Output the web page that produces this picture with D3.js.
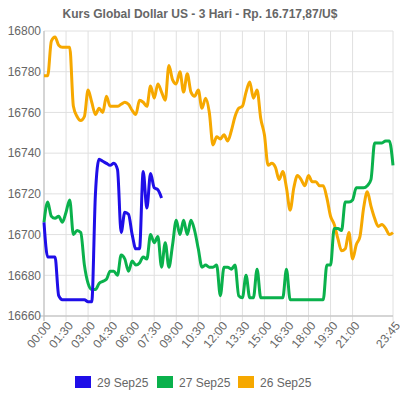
<!DOCTYPE html>
<html><head><meta charset="utf-8">
<script src="https://cdn.jsdelivr.net/npm/d3@7"></script>
<style>body{margin:0;background:#fff;font-family:"Liberation Sans",Arial,sans-serif}</style>
</head><body><div id="chart"></div>
<script>
// 15-minute slots, 00:00 .. 23:45
const slots = d3.range(96).map(i => String(Math.floor(i / 4)).padStart(2, "0") + ":" + String((i % 4) * 15).padStart(2, "0"));
const yTicks = [16660, 16680, 16700, 16720, 16740, 16760, 16780, 16800];
const seriesNames = ["29 Sep25", "27 Sep25", "26 Sep25"];
const seriesColors = ["#1f0ee8", "#0ab14c", "#f6a800"];

const sep29 = [16706,16689,16689,16689,16670,16668,16668,16668,16668,16668,16668,16668,16667,16667,16720,16737,
  16736,16735,16734,16735,16732,16701,16711,16710,16700,16693,16693,16731,16713,16730,16723,16722,16718];
const sep27 = [16706,16716,16709,16708,16709,16706,16711,16717,16700,16702,16701,16685,16676,16673,16673,16676,
  16677,16678,16682,16682,16680,16690,16688,16682,16687,16685,16686,16689,16688,16700,16696,16699,
  16684,16696,16684,16695,16707,16700,16707,16700,16707,16702,16693,16684,16685,16684,16684,16685,
  16670,16684,16684,16683,16685,16670,16669,16680,16669,16669,16683,16669,16669,16669,16669,16669,
  16669,16669,16683,16668,16668,16668,16668,16668,16668,16668,16668,16668,16668,16685,16685,16703,
  16703,16702,16716,16716,16717,16723,16723,16723,16724,16727,16745,16745,16745,16746,16746,16734];
const sep26 = [16778,16778,16795,16797,16793,16792,16792,16792,16763,16758,16756,16758,16771,16765,16759,16762,
  16760,16768,16763,16763,16763,16764,16765,16764,16761,16759,16766,16765,16763,16773,16767,16774,
  16770,16766,16783,16776,16774,16780,16770,16779,16770,16768,16771,16762,16767,16760,16744,16748,
  16747,16749,16746,16751,16758,16762,16763,16770,16775,16767,16771,16757,16749,16734,16735,16733,
  16727,16731,16723,16712,16723,16729,16727,16724,16729,16726,16726,16724,16724,16718,16709,16705,
  16698,16692,16693,16701,16688,16695,16699,16713,16721,16714,16708,16704,16705,16703,16700,16701];
const seriesData = [sep29, sep27, sep26];

const W = 400, H = 400;
const margin = { top: 31, right: 7, bottom: 84, left: 44 };
const svg = d3.select("#chart").append("svg").attr("width", W).attr("height", H);
const g = svg.append("g").attr("transform", `translate(${margin.left},${margin.top})`);
const width = W - margin.left - margin.right, height = H - margin.top - margin.bottom;

const x = d3.scalePoint().domain(slots).range([0, width]);
const y = d3.scaleLinear().domain([16660, 16800]).range([height, 0]);

svg.append("text").attr("x", W / 2).attr("y", 18).attr("text-anchor", "middle")
  .attr("font-size", 12).attr("font-weight", "bold").attr("fill", "#666")
  .text("Kurs Global Dollar US - 3 Hari - Rp. 16.717,87/U$");

const xTickVals = slots.filter((d, i) => (i % 6 === 0 && i < 90) || i === 95);

// grid
g.append("g").selectAll("line").data(yTicks).join("line")
  .attr("x1", 0).attr("x2", width).attr("y1", d => y(d)).attr("y2", d => y(d))
  .attr("stroke", "#e0e0e0");
g.append("g").selectAll("line").data(xTickVals).join("line")
  .attr("x1", d => x(d)).attr("x2", d => x(d)).attr("y1", 0).attr("y2", height + 5)
  .attr("stroke", "#e0e0e0");
g.append("line").attr("x1", 0).attr("x2", 0).attr("y1", 0).attr("y2", height + 5).attr("stroke", "#bbb");
g.append("line").attr("x1", -5).attr("x2", width).attr("y1", height).attr("y2", height).attr("stroke", "#bbb");

const yAxis = g.append("g").call(d3.axisLeft(y).tickValues(yTicks).tickSize(0).tickPadding(3).tickFormat(d3.format("d")));
yAxis.select(".domain").remove();
yAxis.selectAll("text").attr("font-size", 12).attr("fill", "#666").attr("font-family", "Liberation Sans, Arial, sans-serif");

const xAxis = g.append("g").attr("transform", `translate(0,${height})`)
  .call(d3.axisBottom(x).tickValues(xTickVals).tickSize(0));
xAxis.select(".domain").remove();
xAxis.selectAll("text").attr("font-size", 12).attr("fill", "#666")
  .attr("font-family", "Liberation Sans, Arial, sans-serif")
  .attr("text-anchor", "end").attr("dx", 0).attr("dy", 0)
  .attr("transform", "translate(5,8) rotate(-50)");

const line = d3.line().x((d, i) => x(slots[i])).y(d => y(d)).curve(d3.curveMonotoneX);
[2, 1, 0].forEach(k => {
  g.append("path").datum(seriesData[k]).attr("d", line)
    .attr("fill", "none").attr("stroke", seriesColors[k]).attr("stroke-width", 3);
});

// legend
const legX = [75, 157, 238];
const leg = svg.append("g").selectAll("g").data(seriesNames).join("g")
  .attr("transform", (d, i) => `translate(${legX[i]},376)`);
leg.append("rect").attr("width", 16).attr("height", 12).attr("fill", (d, i) => seriesColors[i]);
leg.append("text").attr("x", 22).attr("y", 11).attr("font-size", 12).attr("fill", "#666").text(d => d);
</script></body></html>
